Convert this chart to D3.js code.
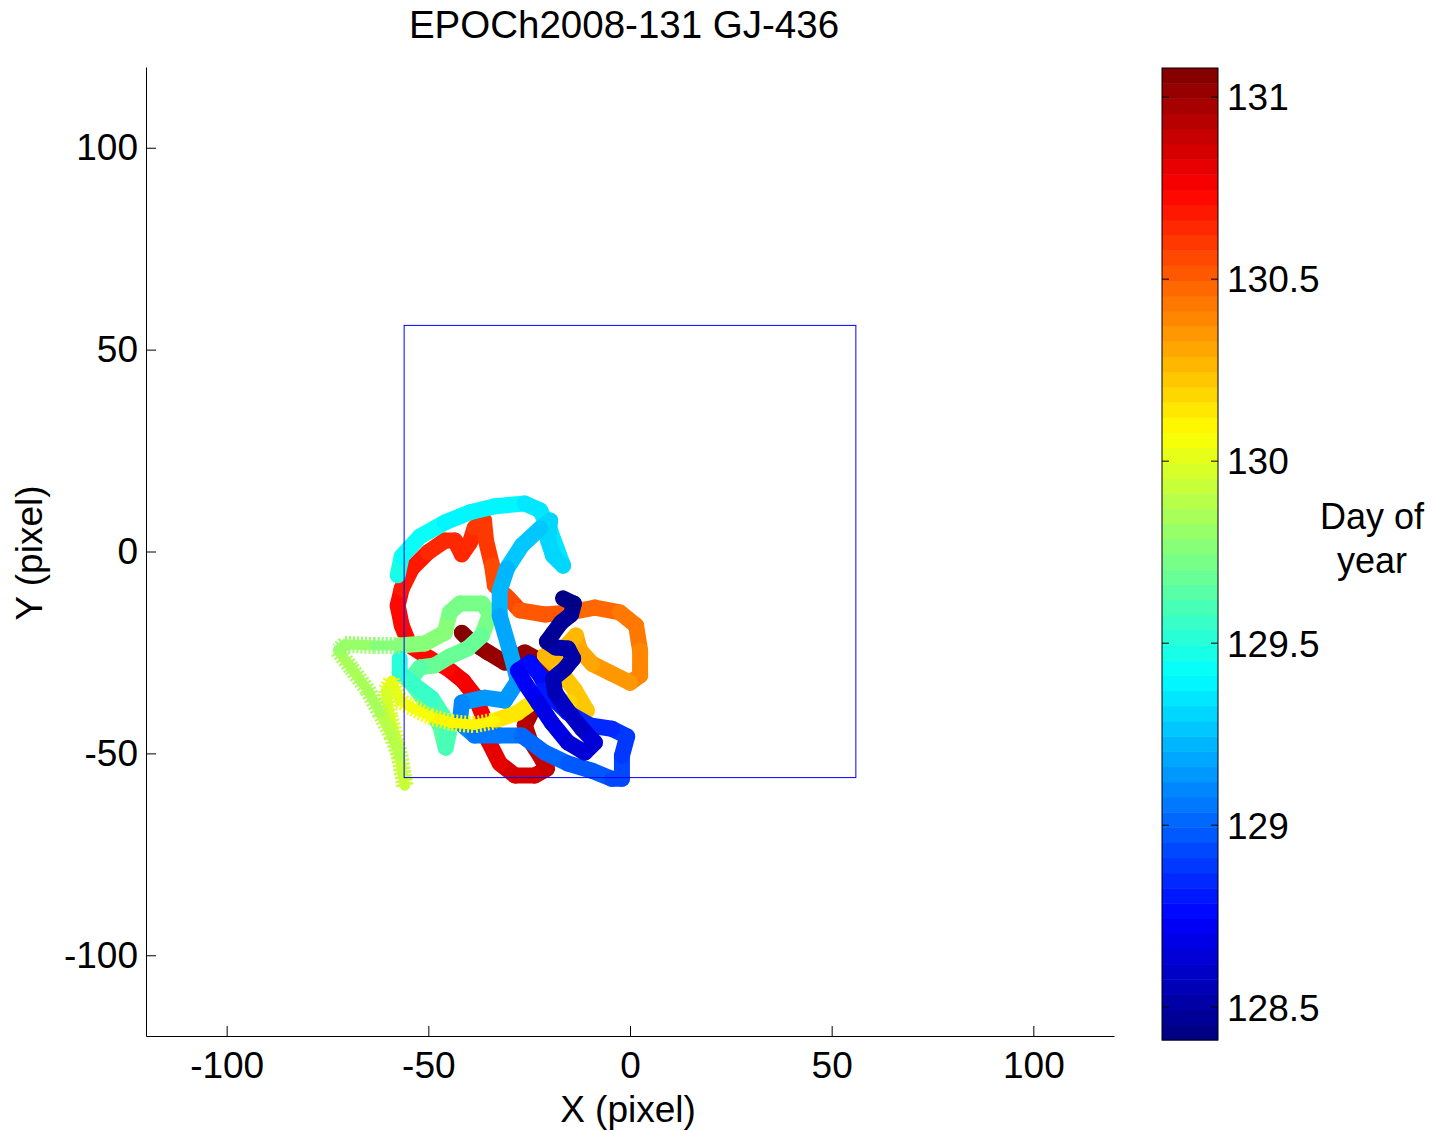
<!DOCTYPE html>
<html>
<head>
<meta charset="utf-8">
<script src="https://cdn.jsdelivr.net/npm/d3@7"></script>
<style>
  body { margin: 0; background: #fff; }
  text { font-family: "Liberation Sans", Arial, sans-serif; fill: #000; }
</style>
</head>
<body>
<div id="chart"></div>
<script>
// chart data
const trackX = [-16.6,-13.9,-14.6,-17.1,-19.1,-20.6,-18.4,-15.4,-14.1,-16.1,-19.1,-18.6,-15.9,-11.9,-8.7,-11.2,-15.4,-19.4,-22.8,-25.8,
  -27.8,-24.8,-22.3,-19.8,-15.4,-9.9,-4.5,-0.7,-2.0,-2.0,-4.5,-9.4,-15.4,-21.1,-26.8,-32.3,-38.5,-42.2,-41.7,-36.0,
  -31.0,-27.8,-29.8,-32.3,-32.3,-30.5,-26.8,-22.3,-19.8,-20.3,-19.1,-16.6,-19.8,-22.3,-26.1,-33.5,-39.7,-45.9,-52.1,-56.6,
  -57.6,-57.1,-57.1,-53.3,-49.1,-46.4,-44.9,-45.7,-47.1,-50.9,-54.6,-52.1,-48.4,-44.7,-40.2,-36.7,-34.7,-36.7,-42.2,-44.7,
  -45.9,-50.9,-57.1,-63.3,-70.7,-72.4,-69.0,-65.0,-62.0,-59.1,-57.1,-55.8,-57.6,-59.6,-60.5,-59.1,-57.1,-54.6,-49.6,-44.2,
  -38.5,-33.5,-27.8,-23.6,-19.8,-14.9,-10.7,-13.6,-17.4,-21.1,-17.4,-13.4,-12.4,-9.4,-5.0,0.0,2.5,2.5,1.5,-2.5,
  -8.7,-14.9,-21.1,-27.3,-30.3,-33.5,-34.2,-35.7,-36.2,-38.5,-39.7,-41.7,-43.4,-45.9,-50.1,-54.1,-56.6,-57.6,-56.6,-54.6,
  -49.6,-45.2,-41.4,-38.5,-36.5,-35.2,-32.3,-28.5,-23.6,-20.6,-22.3,-24.8,-26.1,-23.6,-20.3,-22.3,-26.1,-31.0,-35.2,-39.7,-41.7];
const trackY = [-11.6,-12.9,-15.6,-17.6,-20.3,-22.3,-23.8,-24.0,-26.5,-29.0,-31.5,-34.9,-38.9,-43.9,-47.3,-49.8,-47.3,-42.4,-37.4,-33.0,
  -29.5,-27.5,-30.7,-35.7,-39.9,-43.1,-43.9,-45.8,-50.6,-56.3,-56.3,-54.3,-52.5,-49.8,-45.6,-45.6,-45.6,-42.4,-37.4,-36.2,
  -36.9,-32.0,-24.5,-15.9,-9.7,-4.2,1.5,5.7,7.7,2.7,-1.0,-3.5,5.2,10.2,11.9,11.2,9.7,7.2,3.7,-1.2,
  -5.9,-26.5,-30.0,-33.2,-36.4,-40.6,-44.9,-48.6,-43.1,-36.9,-32.0,-28.7,-28.2,-26.0,-24.0,-20.8,-15.4,-12.9,-12.9,-15.1,
  -20.1,-22.8,-23.3,-23.3,-23.0,-24.5,-29.0,-34.4,-39.9,-45.6,-50.6,-58.0,-48.1,-40.6,-34.4,-32.0,-36.9,-38.4,-40.9,-42.4,
  -42.9,-41.9,-39.9,-36.9,-36.9,-37.4,-39.4,-34.4,-29.5,-25.8,-25.0,-20.8,-24.5,-27.8,-30.0,-32.5,-30.7,-24.5,-18.3,-15.1,
  -13.9,-15.1,-15.6,-14.6,-11.4,-8.4,-3.5,2.7,7.7,5.9,2.2,-0.7,2.7,2.7,-0.2,-4.2,-9.2,-13.4,-18.3,-23.3,
  -26.5,-29.0,-32.0,-35.7,-40.6,-46.8,-52.5,-55.5,-55.5,-53.8,-50.6,-46.8,-43.1,-38.2,-32.5,-27.0,-25.0,-27.5,-25.0,-22.1,-20.1];
const trackDay = [128.44,128.45,128.46,128.47,128.48,128.49,128.50,128.51,128.52,128.54,128.56,128.58,128.61,128.62,128.63,128.65,128.67,128.69,128.71,128.73,
  128.75,128.77,128.79,128.81,128.83,128.85,128.87,128.89,128.91,128.93,128.95,128.97,128.99,129.01,129.03,129.05,129.07,129.09,129.11,129.13,
  129.15,129.17,129.19,129.21,129.23,129.25,129.27,129.29,129.30,129.31,129.32,129.33,129.34,129.35,129.36,129.38,129.40,129.42,129.44,129.46,
  129.47,129.51,129.53,129.55,129.57,129.59,129.61,129.62,129.63,129.645,129.655,129.665,129.67,129.68,129.69,129.70,129.71,129.72,129.73,129.74,
  129.75,129.76,129.77,129.79,129.81,129.82,129.84,129.86,129.88,129.90,129.92,129.94,129.96,129.98,130.00,130.01,130.03,130.05,130.07,130.09,
  130.11,130.13,130.15,130.17,130.19,130.20,130.22,130.24,130.25,130.26,130.27,130.29,130.31,130.33,130.35,130.37,130.39,130.41,130.43,130.45,
  130.47,130.49,130.51,130.53,130.55,130.56,130.58,130.60,130.61,130.62,130.625,130.63,130.635,130.64,130.66,130.68,130.70,130.71,130.72,130.73,
  130.74,130.75,130.76,130.77,130.78,130.80,130.83,130.86,130.88,130.90,130.92,130.94,130.95,130.97,130.99,131.01,131.02,131.03,131.04,131.05,131.06];
// gap in the record (day where a gap starts)
const trackGapStart = [129.47];
// days drawn with star markers (a separate series, plotted over the rest)
const starDays = [129.78, 130.14];
const boxHalf = 56;
const axisTicks = [-100, -50, 0, 50, 100];
const dayTicks = [128.5, 129, 129.5, 130, 130.5, 131];
const dayRange = [128.41, 131.08];

// MATLAB jet, 64 levels
function jet(v) {
  const n = 64;
  let k = Math.floor((v - dayRange[0]) / (dayRange[1] - dayRange[0]) * n);
  k = Math.max(0, Math.min(n - 1, k));
  const t = (k + 0.5) / n;
  const c = a => Math.round(255 * Math.max(0, Math.min(1, a)));
  const r = c(Math.min(4 * t - 1.5, -4 * t + 4.5));
  const g = c(Math.min(4 * t - 0.5, -4 * t + 3.5));
  const b = c(Math.min(4 * t + 0.5, -4 * t + 2.5));
  return `rgb(${r},${g},${b})`;
}

const W = 1439, H = 1131;
const plot = {left: 146, right: 1114, top: 67, bottom: 1036};

const svg = d3.select("#chart").append("svg")
  .attr("width", W).attr("height", H);

const x = d3.scaleLinear().domain([-120, 120]).range([plot.left, plot.right]);
const y = d3.scaleLinear().domain([-120, 120]).range([plot.bottom, plot.top]);

// title
svg.append("text")
  .attr("x", 624).attr("y", 38)
  .attr("text-anchor", "middle")
  .style("font-size", "38.5px")
  .text("EPOCh2008-131 GJ-436");

// trajectory - the earliest samples end up on top, so draw backwards;
// the star samples come last
const track = svg.append("g");
const segs = [];
for (let i = trackX.length - 1; i >= 1; i--) {
  const d0 = trackDay[i - 1], d1 = trackDay[i];
  if (trackGapStart.includes(d0)) continue;
  segs.push({i: i, day: (d0 + d1) / 2, star: d1 > starDays[0] && d1 <= starDays[1]});
}
const ordered = segs.filter(s => !s.star).concat(segs.filter(s => s.star));

ordered.forEach(s => {
  const i = s.i;
  const col = jet(s.day);
  const seg = track.append("line")
    .attr("x1", x(trackX[i - 1])).attr("y1", y(trackY[i - 1]))
    .attr("x2", x(trackX[i])).attr("y2", y(trackY[i]))
    .attr("stroke", col)
    .attr("stroke-linecap", "round");
  if (s.star) {
    seg.attr("stroke-width", 17).attr("stroke-dasharray", "2 2").attr("stroke-linecap", "butt");
    track.append("line")
      .attr("x1", x(trackX[i - 1])).attr("y1", y(trackY[i - 1]))
      .attr("x2", x(trackX[i])).attr("y2", y(trackY[i]))
      .attr("stroke", col)
      .attr("stroke-width", 10)
      .attr("stroke-linecap", "round");
  } else {
    seg.attr("stroke-width", 16);
  }
});

// detector box
svg.append("rect")
  .attr("x", x(-boxHalf)).attr("y", y(boxHalf))
  .attr("width", x(boxHalf) - x(-boxHalf))
  .attr("height", y(-boxHalf) - y(boxHalf))
  .attr("fill", "none")
  .attr("stroke", "#0000ff")
  .attr("stroke-width", 1);

// axes
const fmt = d => String(d);
const xAxis = d3.axisBottom(x).tickValues(axisTicks).tickFormat(fmt).tickSizeInner(-10).tickSizeOuter(0).tickPadding(16);
const yAxis = d3.axisLeft(y).tickValues(axisTicks).tickFormat(fmt).tickSizeInner(-10).tickSizeOuter(0).tickPadding(18);

const gx = svg.append("g").attr("transform", `translate(0,${plot.bottom})`).call(xAxis);
const gy = svg.append("g").attr("transform", `translate(${plot.left},0)`).call(yAxis);
[gx, gy].forEach(g => {
  g.select(".domain").attr("stroke", "#000");
  g.selectAll(".tick line").attr("stroke", "#000");
  g.selectAll(".tick text")
    .style("font-family", '"Liberation Sans", Arial, sans-serif')
    .style("font-size", "37px")
    .attr("fill", "#000");
});
gy.selectAll(".tick text").attr("x", -8);

svg.append("text")
  .attr("x", 628).attr("y", 1122)
  .attr("text-anchor", "middle")
  .style("font-size", "37px")
  .text("X (pixel)");

svg.append("text")
  .attr("transform", "translate(42,553) rotate(-90)")
  .attr("text-anchor", "middle")
  .style("font-size", "37px")
  .text("Y (pixel)");

// colorbar
const cb = {left: 1162, right: 1218, top: 68, bottom: 1040};
const cy = d3.scaleLinear().domain(dayRange).range([cb.bottom, cb.top]);
const levels = d3.range(64);
const step = (dayRange[1] - dayRange[0]) / 64;
svg.append("g").selectAll("rect")
  .data(levels)
  .join("rect")
  .attr("x", cb.left)
  .attr("width", cb.right - cb.left)
  .attr("y", k => cy(dayRange[0] + (k + 1) * step))
  .attr("height", k => cy(dayRange[0] + k * step) - cy(dayRange[0] + (k + 1) * step) + 0.5)
  .attr("fill", k => jet(dayRange[0] + (k + 0.5) * step));

svg.append("rect")
  .attr("x", cb.left).attr("y", cb.top)
  .attr("width", cb.right - cb.left).attr("height", cb.bottom - cb.top)
  .attr("fill", "none").attr("stroke", "#000");

const cbTicks = svg.append("g");
dayTicks.forEach(d => {
  cbTicks.append("line")
    .attr("x1", cb.left).attr("x2", cb.left + 7)
    .attr("y1", cy(d)).attr("y2", cy(d)).attr("stroke", "#000");
  cbTicks.append("line")
    .attr("x1", cb.right - 7).attr("x2", cb.right)
    .attr("y1", cy(d)).attr("y2", cy(d)).attr("stroke", "#000");
  cbTicks.append("text")
    .attr("x", cb.right + 9).attr("y", cy(d))
    .attr("dy", "0.36em")
    .style("font-size", "37px")
    .text(String(d));
});

svg.append("text")
  .attr("x", 1372).attr("y", 529)
  .attr("text-anchor", "middle")
  .style("font-size", "36px")
  .text("Day of");
svg.append("text")
  .attr("x", 1372).attr("y", 573)
  .attr("text-anchor", "middle")
  .style("font-size", "36px")
  .text("year");
</script>
</body>
</html>
